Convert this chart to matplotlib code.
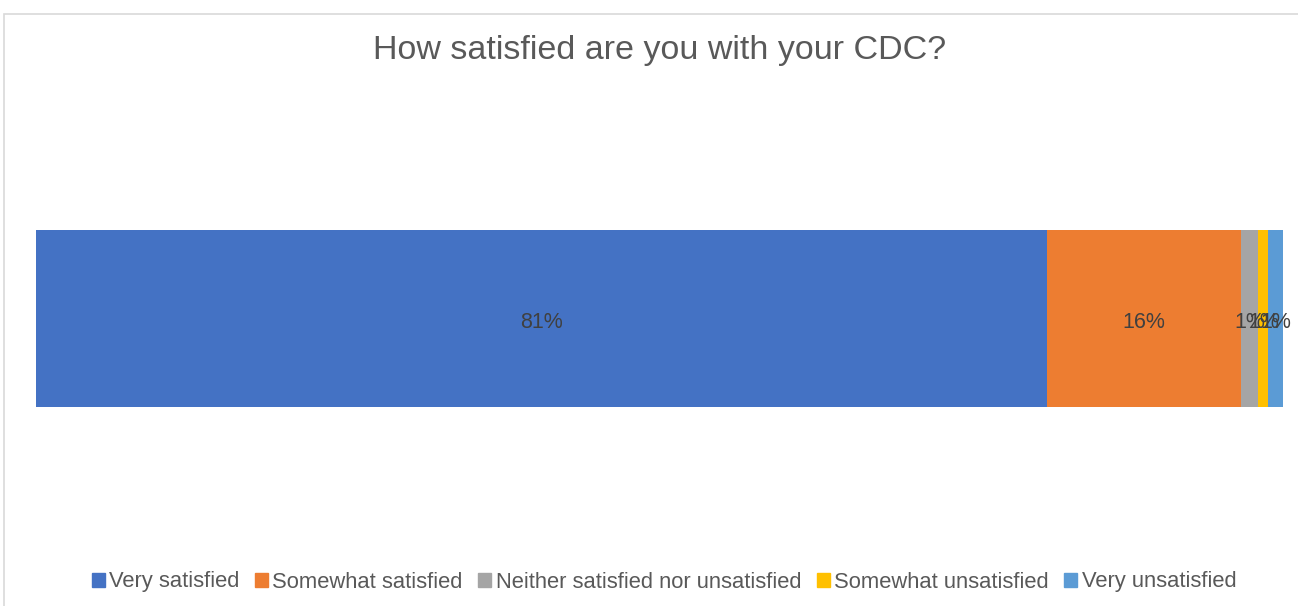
import matplotlib.pyplot as plt
from matplotlib.patches import Patch, Rectangle

plt.rcParams['font.family'] = ['Liberation Sans', 'DejaVu Sans']

# Survey answers and their shares of respondents
categories = ["Very satisfied", "Somewhat satisfied", "Neither satisfied nor unsatisfied",
              "Somewhat unsatisfied", "Very unsatisfied"]
shares = [0.81, 0.1555, 0.014, 0.008, 0.012]
colors = ["#4472C4", "#ED7D31", "#A5A5A5", "#FFC000", "#5B9BD5"]

W, H = 1298, 606
fig = plt.figure(figsize=(W / 100, H / 100), dpi=100)

# chart frame
fig.patches.append(Rectangle((4 / W, -0.1), 1.2, 1.1 - 14 / H, transform=fig.transFigure,
                             fill=False, edgecolor="#D9D9D9", linewidth=1.2))

ax = fig.add_axes([36 / W, 1 - 407 / H, (1284 - 36) / W, 177 / H])

left = 0
for cat, val, col in zip(categories, shares, colors):
    ax.barh(0, val, left=left, height=1, color=col, label=cat)
    ax.text(left + val / 2, -0.02, f"{val:.0%}", ha="center", va="center",
            fontsize=15.5, color="#404040")
    left += val

ax.set_xlim(0, 1)
ax.set_ylim(-0.5, 0.5)
ax.axis("off")

fig.text(660 / W, 1 - 51 / H, "How satisfied are you with your CDC?", ha="center", va="center",
         fontsize=24.5, color="#595959")

handles = [Patch(color=c) for c in colors]
fig.legend(handles, categories, loc="center", bbox_to_anchor=(664 / W, 1 - 582 / H), ncol=5,
           frameon=False, fontsize=15.8, labelcolor="#595959", handlelength=0.6, handleheight=0.6,
           handletextpad=0.2, columnspacing=0.7)

fig.savefig("out.png", dpi=100)
